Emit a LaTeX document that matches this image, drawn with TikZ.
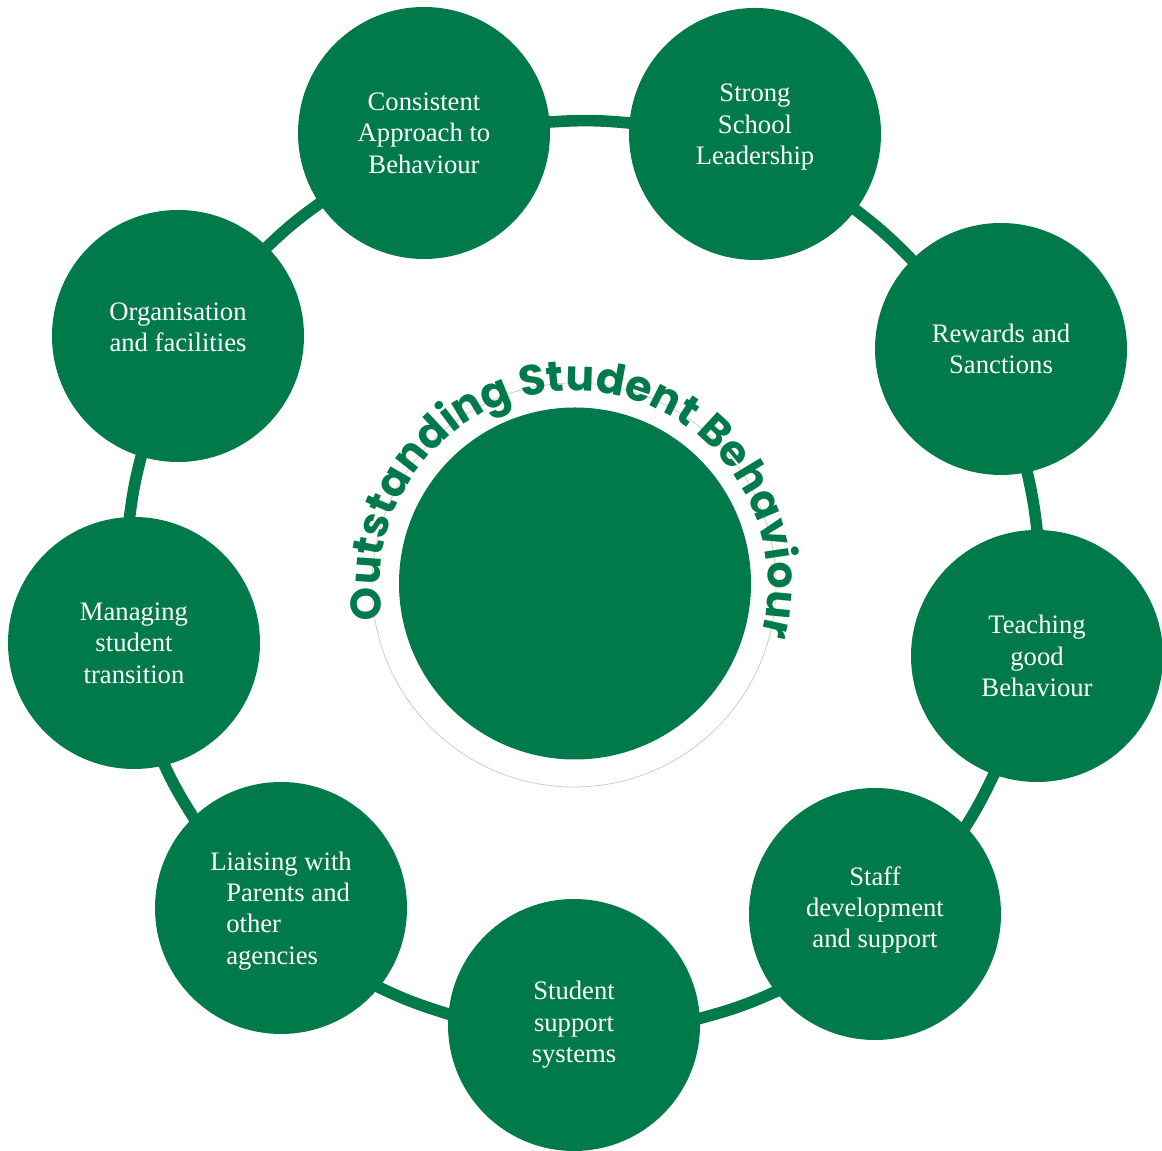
\documentclass[tikz,border=0pt]{standalone}
\usepackage{fontspec}
\setmainfont{Liberation Serif}
\newfontfamily\poppins{Poppins}
\usetikzlibrary{decorations.text,backgrounds}
\definecolor{schoolgreen}{RGB}{0,122,75}
\newcommand\bubblefont{\fontsize{20pt}{23.6pt}\selectfont}
\newcommand\titlefont{\poppins\bfseries\fontsize{32pt}{36pt}\selectfont}
\tikzset{
  bubble/.style={circle, fill=schoolgreen, minimum size=189pt, inner sep=0pt,
    text=white, align=center, font=\bubblefont},
  lifted/.style={text depth=#1},
  ringline/.style={draw=schoolgreen, line width=8.7pt, shorten <=-6pt, shorten >=-6pt}
}
\begin{document}
\begin{tikzpicture}[x=0.75pt, y=0.75pt]
  \useasboundingbox (0,0) rectangle (1162,1151);
  % centre
  \node[circle, draw=gray!40, line width=0.6pt, minimum size=303pt] (halo) at (574,566) {};
  \node[circle, fill=schoolgreen, minimum size=264pt] (hub) at (575,567.5) {};
  \path[decorate, decoration={text along path, text align=center,
      text={|\titlefont\color{schoolgreen}|Outstanding Student Behaviour}}]
    (halo.center) ++(190:194) arc[start angle=190, end angle=-15, radius=194];
  % outer ring
  \node[bubble] (consistent) at (424,1018) {Consistent\\Approach to\\Behaviour};
  \node[bubble, lifted=14.2pt] (strong) at (755,1017) {Strong\\School\\Leadership};
  \node[bubble] (rewards) at (1001,802) {Rewards and\\Sanctions};
  \node[bubble] (teaching) at (1037,495) {Teaching\\good\\Behaviour};
  \node[bubble, lifted=10.3pt] (staff) at (875,237) {Staff\\development\\and support};
  \node[bubble] (support) at (574,126) {Student\\support\\systems};
  \node[bubble, align=left, lifted=0pt] (liaising) at (281,243)
    {Liaising with\\\hspace*{12pt}Parents and\\\hspace*{12pt}other\\\hspace*{12pt}agencies};
  \node[bubble] (transition) at (134,508) {Managing\\student\\transition};
  \node[bubble, lifted=13.5pt] (organisation) at (178,815) {Organisation\\and facilities};
  \begin{scope}[on background layer]
    \draw[ringline] (consistent.5) to[out=4, in=174] (strong.175);
    \draw[ringline] (strong.-37) to[out=-37, in=134] (rewards.135);
    \draw[ringline] (rewards.-78) to[out=-77, in=96] (teaching.90);
    \draw[ringline] (teaching.-110) to[out=-116, in=57] (staff.44);
    \draw[ringline] (staff.-142) to[out=-155, in=15] (support.3);
    \draw[ringline] (support.175) to[out=163, in=-26] (liaising.-39);
    \draw[ringline] (liaising.134) to[out=122, in=-66] (transition.-76);
    \draw[ringline] (transition.92) to[out=83, in=-105] (organisation.-107);
    \draw[ringline] (organisation.45) to[out=44, in=-145] (consistent.-146);
  \end{scope}
\end{tikzpicture}
\end{document}
